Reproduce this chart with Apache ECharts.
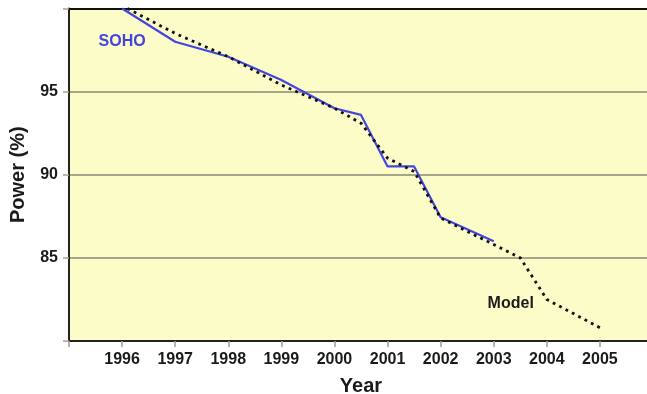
<!DOCTYPE html>
<html>
<head>
<meta charset="utf-8">
<script src="https://cdn.jsdelivr.net/npm/echarts@6/dist/echarts.min.js"></script>
<style>
  html, body { margin: 0; padding: 0; background: #ffffff; }
  #chart { width: 647px; height: 394px; }
</style>
</head>
<body>
<div id="chart"></div>
<script>
// Measured SOHO power, percent of launch value
const sohoYears = [1996, 1997, 1998, 1999, 2000, 2000.5, 2001, 2001.5, 2002, 2003];
const sohoPower = [100, 98.0, 97.1, 95.7, 94.0, 93.6, 90.5, 90.5, 87.45, 86.0];

// Model prediction
const modelYears = [1996.1, 1997, 1998, 1999, 2000, 2000.5, 2001, 2001.5, 2002, 2003, 2003.5, 2004, 2005];
const modelPower = [100, 98.5, 97.1, 95.4, 94.0, 93.1, 91.0, 90.2, 87.4, 85.8, 85.0, 82.5, 80.8];

const yearTicks = [1996, 1997, 1998, 1999, 2000, 2001, 2002, 2003, 2004, 2005];
const powerTicks = [85, 90, 95];

const FONT = '"Liberation Sans", Arial, Helvetica, sans-serif';
const BLUE = '#4444de';
const GRIDC = '#a6a48a';

const pair = (xs, ys) => xs.map((x, i) => [x, ys[i]]);

const chart = echarts.init(document.getElementById('chart'), null, { renderer: 'canvas' });

chart.setOption({
  animation: false,
  backgroundColor: '#ffffff',
  grid: {
    left: 69, top: 8.5, right: -6, bottom: 53,
    outerBoundsMode: 'none', containLabel: false,
    show: true, backgroundColor: '#fcfcc9', borderWidth: 0
  },
  xAxis: [{
    type: 'value', min: 1995, max: 2006, interval: 1,
    name: 'Year', nameLocation: 'middle', nameGap: 35,
    nameTextStyle: { fontFamily: FONT, fontWeight: 'bold', fontSize: 20, color: '#1a1a1a' },
    axisLine: { show: true, onZero: false, lineStyle: { color: '#222', width: 2 } },
    axisTick: { show: true, inside: false, length: 6, lineStyle: { color: '#9a9a9a', width: 1.5 } },
    axisLabel: {
      fontFamily: FONT, fontWeight: 'bold', fontSize: 16, color: '#1a1a1a', margin: 11,
      formatter: v => yearTicks.includes(v) ? String(v) : ''
    },
    splitLine: { show: false }
  }, {
    type: 'value', min: 1995, max: 2006, position: 'top',
    axisLine: { show: true, onZero: false, lineStyle: { color: '#111', width: 2 } },
    axisTick: { show: false }, axisLabel: { show: false }, splitLine: { show: false }
  }],
  yAxis: {
    type: 'value', min: 80, max: 100, interval: 5,
    name: 'Power (%)', nameLocation: 'middle', nameGap: 41,
    nameTextStyle: { fontFamily: FONT, fontWeight: 'bold', fontSize: 20, color: '#1a1a1a' },
    axisLine: { show: true, lineStyle: { color: '#222', width: 2 } },
    axisTick: { show: true, length: 6, lineStyle: { color: GRIDC, width: 1.5 } },
    axisLabel: {
      fontFamily: FONT, fontWeight: 'bold', fontSize: 16, color: '#1a1a1a', margin: 11,
      formatter: v => powerTicks.includes(v) ? String(v) : ''
    },
    splitLine: { show: true, lineStyle: { color: GRIDC, width: 2 } }
  },
  series: [{
    name: 'SOHO', type: 'line', data: pair(sohoYears, sohoPower),
    symbol: 'none', clip: true, z: 3,
    lineStyle: { color: BLUE, width: 2.2 },
    markPoint: {
      symbol: 'circle', symbolSize: 0, silent: true,
      data: [{ coord: [1996.0, 97.98] }],
      label: {
        show: true, position: 'inside', formatter: 'SOHO',
        fontFamily: FONT, fontWeight: 'bold', fontSize: 16, color: BLUE
      }
    }
  }, {
    name: 'Model', type: 'line', data: pair(modelYears, modelPower),
    symbol: 'none', clip: true, z: 4,
    lineStyle: { color: '#111', width: 2.8, type: [2.8, 4.4] },
    markPoint: {
      symbol: 'circle', symbolSize: 0, silent: true,
      data: [{ coord: [2003.32, 82.26] }],
      label: {
        show: true, position: 'inside', formatter: 'Model',
        fontFamily: FONT, fontWeight: 'bold', fontSize: 16, color: '#1a1a1a'
      }
    }
  }]
});
</script>
</body>
</html>
